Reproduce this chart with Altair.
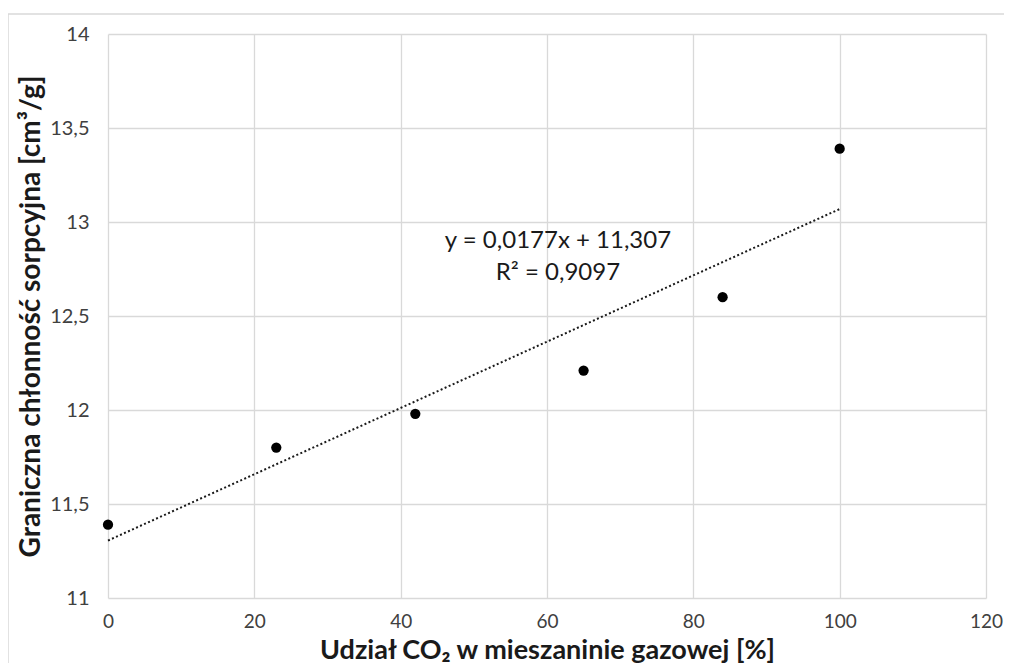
import altair as alt
import pandas as pd

co2_share = [0, 23, 42, 65, 84, 100]
sorption = [11.39, 11.80, 11.98, 12.21, 12.60, 13.39]

eq_text = ["y = 0,0177x + 11,307", "R² = 0,9097"]
eq_x = [61.5, 61.5]
eq_y = [12.90, 12.73]

df = pd.DataFrame({"x": co2_share, "y": sorption})
ann = pd.DataFrame({"t": eq_text, "x": eq_x, "y": eq_y})

FONT = "Lato"
xs = alt.Scale(domain=[0, 120], nice=False, zero=False)
ys = alt.Scale(domain=[11, 14], nice=False, zero=False)

xaxis = alt.Axis(
    title="Udział CO₂ w mieszaninie gazowej [%]",
    values=[0, 20, 40, 60, 80, 100, 120],
    grid=True, gridColor="#d9d9d9", gridWidth=1.3,
    domain=False, ticks=False, labelFlush=False, labelOverlap=False,
    labelFont=FONT, labelFontSize=19, labelColor="#404040", labelPadding=14,
    titleFont=FONT, titleFontSize=27, titleFontWeight="bold", titleColor="#1a1a1a",
    titlePadding=6,
)
yaxis = alt.Axis(
    title="Graniczna chłonność sorpcyjna [cm³/g]",
    values=[11, 11.5, 12, 12.5, 13, 13.5, 14],
    labelExpr="replace(toString(datum.value), '.', ',')",
    grid=True, gridColor="#d9d9d9", gridWidth=1.3,
    domain=False, ticks=False, labelFlush=False, labelOverlap=False,
    labelFont=FONT, labelFontSize=20, labelColor="#404040", labelPadding=19,
    titleFont=FONT, titleFontSize=28, titleFontWeight="bold", titleColor="#1a1a1a",
    titlePadding=4,
)

base = alt.Chart(df)

points = base.mark_point(filled=True, size=105, color="black", opacity=1).encode(
    x=alt.X("x:Q", scale=xs, axis=xaxis),
    y=alt.Y("y:Q", scale=ys, axis=yaxis),
)

trend = base.transform_regression("x", "y", extent=[0, 100]).mark_line(
    color="#1a1a1a", strokeWidth=2, strokeDash=[2, 2.4]
).encode(
    x=alt.X("x:Q", scale=xs),
    y=alt.Y("y:Q", scale=ys),
)

text = alt.Chart(ann).mark_text(
    font=FONT, fontSize=24, color="#1a1a1a", align="center", baseline="middle"
).encode(
    x=alt.X("x:Q", scale=xs),
    y=alt.Y("y:Q", scale=ys),
    text="t:N",
)

frame = alt.Chart(df).mark_rect(
    fill=None, stroke="#d9d9d9", strokeWidth=1.5, clip=False
).encode(
    x=alt.value(-100), x2=alt.value(1000), y=alt.value(-20), y2=alt.value(700)
).transform_filter("datum.x == 0")

chart = alt.layer(frame, trend, points, text).properties(
    width=878, height=564,
    padding={"left": 100, "top": 26, "right": 18, "bottom": 65},
    autosize=alt.AutoSizeParams(type="none"),
).configure_view(stroke=None)

chart.save("out.html", embed_options={"renderer": "svg", "actions": False})
